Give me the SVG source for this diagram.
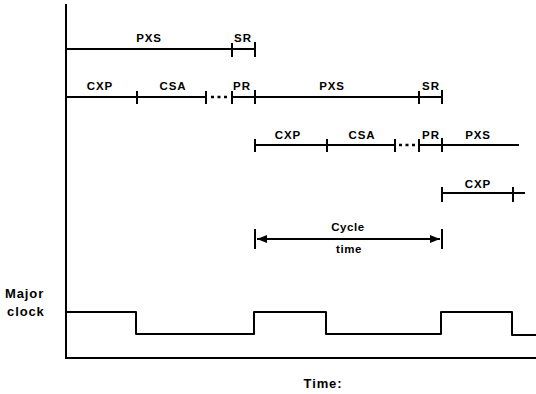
<svg xmlns="http://www.w3.org/2000/svg" width="536" height="394" viewBox="0 0 536 394">
<defs>
<style>
.ln{stroke:#000;stroke-width:2;fill:none;stroke-linecap:square}
.tk{stroke:#000;stroke-width:2;fill:none}
.dt{stroke:#000;stroke-width:2.5;fill:none;stroke-dasharray:3,3.5}
.lb{font-family:"Liberation Sans",Arial,sans-serif;font-weight:bold;font-size:11.5px;letter-spacing:0.9px;text-anchor:middle;fill:#000}
.big{font-family:"Liberation Sans",Arial,sans-serif;font-weight:bold;font-size:13px;letter-spacing:0.9px;fill:#000}
</style>
<marker id="ah" viewBox="0 0 10 8" refX="10" refY="4" markerWidth="10" markerHeight="8" markerUnits="userSpaceOnUse" orient="auto-start-reverse">
<path d="M0,0 L10,4 L0,8 z" fill="#000"/>
</marker>
</defs>
<rect width="536" height="394" fill="#fff"/>
<g id="axes">
<path class="ln" d="M66,5 V358 H536"/>
</g>
<g id="connectors">
<path class="ln" d="M66,49 H255"/>
<path class="tk" d="M232,43 V57 M255,42 V57"/>
<path class="ln" d="M66,97 H206"/>
<path class="ln" d="M232,97 H442"/>
<path class="tk" d="M137,91 V104 M206,91 V104 M232,91 V104 M255,90 V104 M419,91 V104 M442,90 V104"/>
<path class="dt" d="M211,97 H227"/>
<path class="ln" d="M255,145 H395"/>
<path class="ln" d="M419,145 H518"/>
<path class="tk" d="M255,139 V152 M327,139 V152 M395,139 V152 M419,139 V152 M442,138 V152"/>
<path class="dt" d="M399,145 H415"/>
<path class="ln" d="M442,193 H524"/>
<path class="tk" d="M442,187 V202 M513,187 V202"/>
<path class="tk" d="M255,229 V249 M442,229 V249"/>
<path d="M257,239 H440" stroke="#000" stroke-width="1.8" fill="none" marker-start="url(#ah)" marker-end="url(#ah)"/>
</g>
<g id="row1">
<text class="lb" x="149" y="42">PXS</text>
<text class="lb" x="243" y="42">SR</text>
</g>
<g id="row2">
<text class="lb" x="100" y="90">CXP</text>
<text class="lb" x="173" y="90">CSA</text>
<text class="lb" x="242" y="90">PR</text>
<text class="lb" x="332" y="90">PXS</text>
<text class="lb" x="431" y="90">SR</text>
</g>
<g id="row3">
<text class="lb" x="288" y="139">CXP</text>
<text class="lb" x="362" y="139">CSA</text>
<text class="lb" x="431" y="139">PR</text>
<text class="lb" x="478" y="139">PXS</text>
</g>
<g id="row4">
<text class="lb" x="478" y="188">CXP</text>
</g>
<g id="cycle">
<text class="lb" x="348" y="231" style="letter-spacing:0.6px">Cycle</text>
<text class="lb" x="349" y="253" style="letter-spacing:0.6px">time</text>
</g>
<g id="clock">
<text class="big" x="5" y="298">Major</text>
<text class="big" x="7" y="316">clock</text>
<path class="ln" d="M67,312 H136 V334 H254 V312 H326 V334 H441 V312 H512 V335 H536" stroke-linejoin="round"/>
</g>
<g id="time-label">
<text class="big" x="323" y="388" text-anchor="middle">Time:</text>
</g>
</svg>
